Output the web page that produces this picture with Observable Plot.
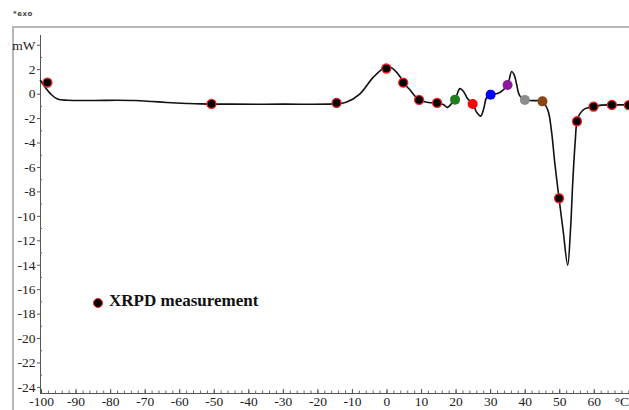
<!DOCTYPE html>
<html><head><meta charset="utf-8">
<script src="https://cdn.jsdelivr.net/npm/d3@7"></script>
<script src="https://cdn.jsdelivr.net/npm/@observablehq/plot@0.6"></script>
<style>
html,body{margin:0;padding:0;background:#fff;overflow:hidden;}
#wrap{position:relative;width:629px;height:410px;overflow:hidden;}
#frame{position:absolute;left:12px;top:26px;width:700px;height:500px;border:2px solid #b8b8b8;box-sizing:border-box;}
#exo{position:absolute;left:13px;top:10px;font:bold 7px "DejaVu Sans",sans-serif;color:#444;letter-spacing:0.5px}
#chart{position:absolute;left:0;top:0;}
#legend{position:absolute;left:93px;top:291px;display:flex;align-items:center;font:bold 17px "Liberation Serif",serif;color:#111;}
#legend .sw{width:8px;height:8px;border-radius:50%;background:#000;border:1.5px solid #ff1a1a;margin-right:6px;margin-top:3px}
</style>
</head><body>
<div id="wrap">
  <div id="frame"></div>
  <div id="exo">*exo</div>
  <div id="chart"></div>
  <div id="legend"><span class="sw"></span><span id="legtext"></span></div>
</div>
<script>
// DSC curve
const curveX = [-100.3,-99.3,-97.3,-95.4,-92.5,-85,-78,-73,-68,-63.7,-58,-54,-45,-30,-15.6,-11.8,-7.9,-4.0,-0.5,1.0,3.8,4.7,6.5,9.3,12,14.5,16.3,17.5,18.6,19.7,21.1,22.2,23.3,24.8,26.0,27.1,28.0,28.8,30.0,32.0,33.5,34.9,36.1,36.8,37.5,38.4,39.9,42.3,45.0,46.6,47.6,48.6,49.8,51.0,52.3,53.1,53.8,54.5,55.0,55.8,57.2,59.8,62,65.1,70.2];
const curveY = [1.12,0.7,0.0,-0.4,-0.5,-0.52,-0.5,-0.52,-0.6,-0.68,-0.76,-0.8,-0.82,-0.82,-0.8,-0.67,0.0,1.37,2.2,2.2,1.43,0.94,0.4,-0.47,-0.68,-0.72,-0.85,-1.08,-0.8,-0.45,0.45,0.2,-0.35,-0.8,-1.5,-1.8,-1.2,-0.3,-0.04,0.05,0.3,0.75,1.85,1.6,0.83,-0.12,-0.47,-0.53,-0.59,-1.35,-2.98,-5.7,-8.52,-11.2,-14.0,-11.2,-7.07,-3.8,-2.22,-1.62,-1.21,-1.02,-0.9,-0.88,-0.88];

// XRPD measurement points
const xrpdX = [-98.3,-50.8,-14.6,-0.2,4.7,9.3,14.5,49.8,55.0,59.8,65.1,70.0];
const xrpdY = [0.95,-0.8,-0.72,2.1,0.94,-0.47,-0.72,-8.52,-2.22,-1.02,-0.88,-0.9];

// coloured points
const colX = [19.7,24.8,30.0,34.9,39.9,45.0];
const colY = [-0.45,-0.8,-0.04,0.75,-0.47,-0.59];
const colC = ["#1f7f1f","#ff0000","#0000ff","#8b1a9b","#8c8c8c","#8b4513"];

const xTickLabels = [-100,-90,-80,-70,-60,-50,-40,-30,-20,-10,0,10,20,30,40,50,60];
const yTickLabels = [-24,-22,-20,-18,-16,-14,-12,-10,-8,-6,-4,-2,0,2];
const xUnit = "°C", yUnit = "mW";
const legendLabel = "XRPD measurement";

const xDom = [-100.3, 70.2], yDom = [-24.5, 4.8];
const curve = curveX.map((x,i)=>({x, y: curveY[i]}));
const xrpd = xrpdX.map((x,i)=>({x, y: xrpdY[i]}));
const cols = colX.map((x,i)=>({x, y: colY[i], c: colC[i]}));
const xMinor = d3.range(-100, 71, 2);
const yMinor = d3.range(-24, 5, 1).filter(v => !yTickLabels.includes(v) && v !== 4);
const xMajorTicks = [...xTickLabels, 68];
const yMajorTicks = [...yTickLabels, 4];

const plot = Plot.plot({
  width: 629, height: 410,
  marginLeft: 40, marginRight: 0, marginTop: 35, marginBottom: 17,
  style: {background: "transparent"},
  x: {domain: xDom},
  y: {domain: yDom},
  marks: [
    Plot.ruleX([xDom[0]], {y1: yDom[0], y2: yDom[1], stroke: "#555", strokeWidth: 1}),
    Plot.ruleY([yDom[0]], {x1: xDom[0], x2: xDom[1], stroke: "#555", strokeWidth: 1}),
    Plot.ruleX(xMinor, {y1: yDom[0], y2: yDom[0] + 0.2, stroke: "#666", strokeWidth: 1}),
    Plot.ruleX(xTickLabels, {y1: yDom[0], y2: yDom[0] + 0.33, stroke: "#555", strokeWidth: 1}),
    Plot.ruleY(yMinor, {x1: xDom[0], x2: xDom[0] + 0.6, stroke: "#666", strokeWidth: 1}),
    Plot.axisY({ticks: yMajorTicks, tickSize: 3, tickPadding: 2, tickFormat: d => d === 4 ? yUnit : String(d), label: null, stroke: "#555", fill: "#222"}),
    Plot.axisX({ticks: xMajorTicks, tickSize: 0, tickPadding: 3, tickFormat: d => d === 68 ? xUnit : String(d), label: null, fill: "#222"}),
    Plot.line(curve, {x: "x", y: "y", curve: "catmull-rom", stroke: "#111", strokeWidth: 1.6}),
    Plot.dot(xrpd, {x: "x", y: "y", r: 4.5, fill: "#000", stroke: "#ff1a1a", strokeWidth: 1.3}),
    Plot.dot(cols, {x: "x", y: "y", r: 5, fill: "c", stroke: "none"})
  ]
});
plot.querySelectorAll("text").forEach(t => {
  t.style.fontFamily = "'Liberation Serif', serif";
  t.style.fontSize = "13.5px";
});
document.getElementById("chart").appendChild(plot);
document.getElementById("legtext").textContent = legendLabel;
</script>
</body></html>
